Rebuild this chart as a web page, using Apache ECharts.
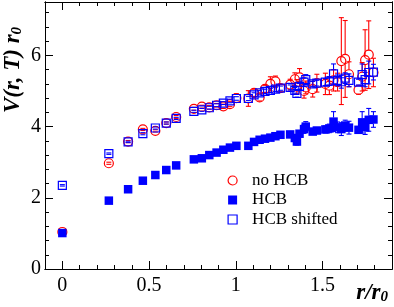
<!DOCTYPE html>
<html><head><meta charset="utf-8">
<script src="https://cdn.jsdelivr.net/npm/echarts@6/dist/echarts.min.js"></script>
<style>html,body{margin:0;padding:0;background:#fff}#c{width:394px;height:307px}</style>
</head><body><div id="c"></div>
<script>
// r / r0 positions
const r = [0, 0.268, 0.379, 0.464, 0.536, 0.599, 0.656, 0.758, 0.804, 0.847, 0.889, 0.928, 0.966, 1.003, 1.072, 1.105, 1.137, 1.168, 1.199, 1.228, 1.257, 1.313, 1.340, 1.352, 1.367, 1.393, 1.403, 1.443, 1.467, 1.516, 1.539, 1.563, 1.586, 1.608, 1.630, 1.652, 1.707, 1.728, 1.745, 1.766, 1.793];
// no HCB
const noHcb    = [1.04, 2.97, 3.58, 3.92, 3.88, 4.10, 4.27, 4.50, 4.56, 4.54, 4.60, 4.57, 4.63, 4.80, 4.79, 4.95, 4.82, 5.06, 5.20, 5.27, 5.08, 5.18, 5.33, 5.12, 5.38, 5.00, 5.10, 5.05, 5.22, 5.20, 5.15, 5.30, 5.25, 5.84, 5.90, 5.47, 5.03, 5.40, 5.87, 6.02, 5.52];
const noHcbErr = [0.02, 0.03, 0.03, 0.03, 0.03, 0.03, 0.04, 0.04, 0.04, 0.05, 0.05, 0.06, 0.07, 0.12, 0.22, 0.10, 0.10, 0.10, 0.20, 0.15, 0.10, 0.15, 0.18, 0.20, 0.25, 0.20, 0.18, 0.22, 0.25, 0.30, 0.25, 0.30, 0.25, 1.22, 1.08, 0.35, 0.12, 0.40, 0.85, 0.95, 0.40];
// HCB
const hcb      = [1.01, 1.92, 2.24, 2.48, 2.64, 2.78, 2.91, 3.08, 3.11, 3.20, 3.27, 3.35, 3.41, 3.46, 3.46, 3.57, 3.63, 3.66, 3.69, 3.73, 3.77, 3.78, 3.68, 3.58, 3.80, 3.93, 4.00, 3.86, 3.89, 3.92, 3.95, 4.14, 3.98, 3.93, 4.03, 3.97, 3.91, 4.12, 3.98, 4.19, 4.20];
const hcbErr   = [0.02, 0.02, 0.02, 0.02, 0.02, 0.02, 0.02, 0.03, 0.03, 0.03, 0.03, 0.03, 0.04, 0.04, 0.05, 0.05, 0.05, 0.05, 0.05, 0.05, 0.05, 0.06, 0.08, 0.10, 0.08, 0.12, 0.14, 0.06, 0.08, 0.10, 0.12, 0.28, 0.15, 0.18, 0.15, 0.18, 0.08, 0.30, 0.20, 0.32, 0.22];
// HCB shifted
const hcbShifted    = [2.35, 3.24, 3.57, 3.80, 3.96, 4.10, 4.23, 4.43, 4.47, 4.53, 4.60, 4.66, 4.72, 4.79, 4.79, 4.89, 4.95, 4.99, 5.02, 5.05, 5.08, 5.10, 5.02, 4.93, 5.13, 5.25, 5.32, 5.20, 5.22, 5.25, 5.28, 5.48, 5.30, 5.26, 5.36, 5.30, 5.25, 5.46, 5.32, 5.52, 5.53];
const hcbShiftedErr = [0.02, 0.02, 0.02, 0.03, 0.03, 0.03, 0.03, 0.03, 0.04, 0.04, 0.04, 0.04, 0.05, 0.05, 0.06, 0.06, 0.06, 0.06, 0.06, 0.06, 0.06, 0.07, 0.08, 0.10, 0.08, 0.12, 0.14, 0.07, 0.08, 0.10, 0.12, 0.28, 0.15, 0.18, 0.15, 0.18, 0.08, 0.30, 0.20, 0.32, 0.22];

const xMajorTicks = [0, 0.5, 1, 1.5];
const xMinorTicks = [-0.1, 0.1, 0.2, 0.3, 0.4, 0.6, 0.7, 0.8, 0.9, 1.1, 1.2, 1.3, 1.4, 1.6, 1.7, 1.8, 1.9];
const yMajorTicks = [0, 2, 4, 6];
const yMinorTicks = [0.4, 0.8, 1.2, 1.6, 2.4, 2.8, 3.2, 3.6, 4.4, 4.8, 5.2, 5.6, 6.4, 6.8, 7.2];
const seriesNames = ['no HCB', 'HCB', 'HCB shifted'];

const RED = '#ff0000', BLUE = '#0000ff';
const FONT = '"Liberation Serif", "DejaVu Serif", serif';

function pairs(ys, es) { return r.map((x, i) => [x, ys[i], es[i]]); }

function errRender(color, half) {
  return function (params, api) {
    const x = api.value(0), y = api.value(1), e = api.value(2);
    const t = api.coord([x, y + e]), b = api.coord([x, y - e]), c = api.coord([x, y]);
    const cw = 2.5;
    const st = { stroke: color, lineWidth: 1.1 };
    const ch = [
      { type: 'line', shape: { x1: t[0] - cw, y1: t[1], x2: t[0] + cw, y2: t[1] }, style: st },
      { type: 'line', shape: { x1: b[0] - cw, y1: b[1], x2: b[0] + cw, y2: b[1] }, style: st }
    ];
    if (c[1] - t[1] > half) ch.push({ type: 'line', shape: { x1: c[0], y1: t[1], x2: c[0], y2: c[1] - half }, style: st });
    if (b[1] - c[1] > half) ch.push({ type: 'line', shape: { x1: c[0], y1: c[1] + half, x2: c[0], y2: b[1] }, style: st });
    return { type: 'group', children: ch };
  };
}

function xAxisDef(pos, ticks, len, labels) {
  return {
    type: 'value', position: pos, min: -0.1, max: 1.9,
    axisLine: { show: true, onZero: false, lineStyle: { color: '#000', width: 1 } },
    axisTick: { show: true, inside: true, length: len, customValues: ticks, lineStyle: { color: '#000', width: 1 } },
    axisLabel: labels ? { show: true, customValues: ticks, margin: 7, color: '#000', fontFamily: FONT, fontSize: 20 } : { show: false },
    splitLine: { show: false }
  };
}
function yAxisDef(pos, ticks, len, labels) {
  return {
    type: 'value', position: pos, min: 0, max: 7.5,
    axisLine: { show: true, onZero: false, lineStyle: { color: '#000', width: 1 } },
    axisTick: { show: true, inside: true, length: len, customValues: ticks, lineStyle: { color: '#000', width: 1 } },
    axisLabel: labels ? { show: true, customValues: ticks, margin: 4, color: '#000', fontFamily: FONT, fontSize: 20 } : { show: false },
    splitLine: { show: false }
  };
}

const titleRich = {
  a: { fontFamily: FONT, fontSize: 23, fontWeight: 'bold', fontStyle: 'italic', fill: '#000' },
  s: { fontFamily: FONT, fontSize: 15, fontWeight: 'bold', fontStyle: 'italic', fill: '#000', padding: [8, 0, 0, 0] }
};

const chart = echarts.init(document.getElementById('c'), null, { renderer: 'canvas' });
chart.setOption({
  animation: false,
  backgroundColor: '#fff',
  grid: { left: 45, right: 2, top: 2, bottom: 38 },
  xAxis: [
    xAxisDef('bottom', xMajorTicks, 8, true),
    xAxisDef('bottom', xMinorTicks, 4, false),
    xAxisDef('top', xMajorTicks, 8, false),
    xAxisDef('top', xMinorTicks, 4, false)
  ],
  yAxis: [
    yAxisDef('left', yMajorTicks, 8, true),
    yAxisDef('left', yMinorTicks, 4, false),
    yAxisDef('right', yMajorTicks, 8, false),
    yAxisDef('right', yMinorTicks, 4, false)
  ],
  legend: {
    orient: 'vertical', left: 222.5, top: 167, itemWidth: 9, itemHeight: 9, itemGap: 2.5,
    textStyle: { fontFamily: FONT, fontSize: 17, color: '#000', padding: [0, 0, 0, 10], lineHeight: 16 },
    data: [
      { name: seriesNames[0], icon: 'circle', itemStyle: { color: 'rgba(0,0,0,0)', borderColor: RED, borderWidth: 1.2 } },
      { name: seriesNames[1], icon: 'rect', itemStyle: { color: BLUE, borderWidth: 0 } },
      { name: seriesNames[2], icon: 'rect', itemStyle: { color: 'rgba(0,0,0,0)', borderColor: BLUE, borderWidth: 1.2 } }
    ]
  },
  graphic: [
    { type: 'text', x: 2, y: 113, rotation: Math.PI / 2,
      style: { text: '{a|V(r, T) r}{s|0}', fill: '#000', rich: titleRich } },
    { type: 'text', right: 6, bottom: 2,
      style: { text: '{a|r/r}{s|0}', fill: '#000', rich: titleRich } }
  ],
  series: [
    { type: 'custom', name: 'e1', renderItem: errRender(RED, 4.5), data: pairs(noHcb, noHcbErr), z: 2, silent: true },
    { type: 'scatter', name: seriesNames[0], data: r.map((x, i) => [x, noHcb[i]]), symbol: 'circle', symbolSize: 9,
      itemStyle: { color: 'rgba(0,0,0,0)', borderColor: RED, borderWidth: 1.2, opacity: 1 }, z: 3 },
    { type: 'custom', name: 'e2', renderItem: errRender(BLUE, 4), data: pairs(hcb, hcbErr), z: 4, silent: true },
    { type: 'scatter', name: seriesNames[1], data: r.map((x, i) => [x, hcb[i]]), symbol: 'rect', symbolSize: 8.5,
      itemStyle: { color: BLUE, opacity: 1 }, z: 5 },
    { type: 'custom', name: 'e3', renderItem: errRender(BLUE, 4), data: pairs(hcbShifted, hcbShiftedErr), z: 6, silent: true },
    { type: 'scatter', name: seriesNames[2], data: r.map((x, i) => [x, hcbShifted[i]]), symbol: 'rect', symbolSize: 8,
      itemStyle: { color: 'rgba(0,0,0,0)', borderColor: BLUE, borderWidth: 1.2, opacity: 1 }, z: 7 }
  ]
});
</script></body></html>
